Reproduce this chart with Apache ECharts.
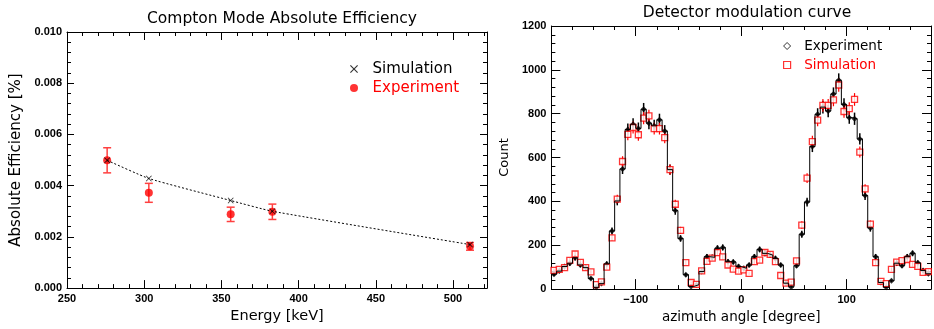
<!DOCTYPE html>
<html>
<head>
<meta charset="utf-8">
<script src="https://cdn.jsdelivr.net/npm/echarts@6/dist/echarts.min.js"></script>
<style>
  html, body { margin: 0; padding: 0; background: #fff; }
  #wrap { position: relative; width: 934px; height: 329px; overflow: hidden; }
  #eff { position: absolute; left: 0; top: 0; width: 490px; height: 329px; }
  #mod { position: absolute; left: 490px; top: 0; width: 444px; height: 329px; }
</style>
</head>
<body>
<div id="wrap"><div id="eff"></div><div id="mod"></div></div>
<script>
// left panel: absolute efficiency vs gamma energy
var energies = [276, 303, 356, 383, 511];
var simEff = [0.00499, 0.00428, 0.00342, 0.00300, 0.00170];
var expEff = [0.00499, 0.00372, 0.00288, 0.00298, 0.00163];
var expEffErr = [0.00049, 0.00037, 0.00028, 0.00030, 0.00015];

// right panel: modulation curve, 5 degree bins starting at -180
var binStart = -180;
var binWidth = 5;
var expCounts = [68, 82, 103, 118, 143, 110, 98, 48, 8, 25, 115, 265,
  402, 548, 728, 752, 733, 820, 757, 745, 772, 721, 545, 358,
  231, 66, 12, 20, 80, 148, 145, 186, 190, 125, 124, 103,
  95, 110, 148, 181, 163, 155, 140, 110, 27, 10, 107, 250,
  397, 650, 797, 830, 812, 890, 953, 842, 782, 777, 685, 427,
  279, 148, 30, 8, 38, 118, 107, 148, 163, 120, 85, 70];
var expErr = [8, 9, 10, 11, 12, 10, 10, 7, 3, 5, 11, 16,
  20, 23, 27, 27, 27, 29, 28, 27, 28, 27, 23, 19,
  15, 8, 3, 4, 9, 12, 12, 14, 14, 11, 11, 10,
  10, 10, 12, 13, 13, 12, 12, 10, 5, 3, 10, 16,
  20, 25, 28, 29, 28, 30, 31, 29, 28, 28, 26, 21,
  17, 12, 5, 3, 6, 11, 10, 12, 13, 11, 9, 8];
var simCounts = [85, 90, 98, 131, 160, 122, 98, 79, 20, 33, 100, 234,
  410, 582, 706, 737, 704, 780, 790, 732, 732, 691, 545, 387,
  268, 121, 30, 22, 83, 126, 141, 166, 147, 110, 91, 82,
  88, 72, 125, 132, 167, 158, 125, 62, 27, 32, 129, 292,
  506, 673, 771, 838, 838, 863, 931, 810, 823, 865, 625, 457,
  296, 121, 35, 25, 90, 123, 130, 135, 113, 104, 76, 80];
var simErr = [9, 9, 10, 11, 13, 11, 10, 9, 4, 6, 10, 15,
  20, 24, 27, 27, 27, 28, 28, 27, 27, 26, 23, 20,
  16, 11, 5, 5, 9, 11, 12, 13, 12, 10, 10, 9,
  9, 8, 11, 11, 13, 13, 11, 8, 5, 6, 11, 17,
  22, 26, 28, 29, 29, 29, 31, 28, 29, 29, 25, 21,
  17, 11, 6, 5, 9, 11, 11, 12, 11, 10, 9, 9];

var black = '#000';
var red = '#ff0000';
var font = 'DejaVu Sans';
var tickFont = {color: black, fontFamily: 'Liberation Sans', fontWeight: 'bold', fontSize: 11};
var crossIcon = 'path://M0,1L1,0L5,4L9,0L10,1L6,5L10,9L9,10L5,6L1,10L0,9L4,5Z';

// plain axis that only draws ticks (used to fake minor ticks and the mirrored frame)
function tickAxis(pos, min, max, interval, len, withLine) {
  return {
    type: 'value', position: pos, min: min, max: max, interval: interval,
    axisLine: {show: withLine, onZero: false, lineStyle: {color: black, width: 1}},
    axisTick: {show: true, inside: true, length: len, lineStyle: {color: black}},
    axisLabel: {show: false},
    splitLine: {show: false}
  };
}

// vertical error bar, optional caps
function errorBars(capHalf, color, width) {
  return function (params, api) {
    var x = api.value(0);
    var pLo = api.coord([x, api.value(1)]);
    var pHi = api.coord([x, api.value(2)]);
    var style = {stroke: color, lineWidth: width};
    var kids = [{type: 'line', shape: {x1: pLo[0], y1: pLo[1], x2: pHi[0], y2: pHi[1]}, style: style}];
    if (capHalf) {
      kids.push({type: 'line', shape: {x1: pLo[0] - capHalf, y1: pLo[1], x2: pLo[0] + capHalf, y2: pLo[1]}, style: style});
      kids.push({type: 'line', shape: {x1: pHi[0] - capHalf, y1: pHi[1], x2: pHi[0] + capHalf, y2: pHi[1]}, style: style});
    }
    return {type: 'group', children: kids};
  };
}

// ---------- left chart ----------
var effChart = echarts.init(document.getElementById('eff'));

var effX = tickAxis('bottom', 250, 522, 50, 8, true);
effX.axisLabel = Object.assign({show: true, margin: 5, showMaxLabel: false,
  formatter: function (v) { return v % 50 === 0 ? v : ''; }}, tickFont);
effX.name = 'Energy [keV]';
effX.nameLocation = 'middle';
effX.nameGap = 19;
effX.nameTextStyle = {fontFamily: font, fontSize: 14.5, color: black};

var effY = tickAxis('left', 0, 0.010, 0.002, 7, true);
effY.axisLabel = Object.assign({show: true, margin: 5,
  formatter: function (v) { return v.toFixed(3); }}, tickFont);
effY.name = 'Absolute Efficiency [%]';
effY.nameLocation = 'middle';
effY.nameGap = 42;
effY.nameTextStyle = {fontFamily: font, fontSize: 15, color: black};

effChart.setOption({
  animation: false,
  title: {
    text: 'Compton Mode Absolute Efficiency', left: 277, top: 6, textAlign: 'center',
    textStyle: {fontFamily: font, fontSize: 15.5, fontWeight: 'normal', color: black}
  },
  grid: {left: 67, top: 32, width: 420, height: 257},
  legend: {
    orient: 'vertical', left: 350, top: 61, padding: 0, itemWidth: 8, itemHeight: 8, itemGap: 3,
    selectedMode: false,
    textStyle: {fontFamily: font, fontSize: 15, lineHeight: 16},
    formatter: function (n) { return '  ' + n; },
    data: [
      {name: 'Simulation', icon: crossIcon, itemStyle: {color: black}, textStyle: {color: black}},
      {name: 'Experiment', icon: 'circle', itemStyle: {color: red}, textStyle: {color: red}}
    ]
  },
  xAxis: [
    effX,
    tickAxis('bottom', 250, 522, 10, 4, false),
    tickAxis('top', 250, 522, 50, 8, true),
    tickAxis('top', 250, 522, 10, 4, false)
  ],
  yAxis: [
    effY,
    tickAxis('left', 0, 0.010, 0.0004, 4, false),
    tickAxis('right', 0, 0.010, 0.002, 7, true),
    tickAxis('right', 0, 0.010, 0.0004, 4, false)
  ],
  series: [
    {
      name: 'fit', type: 'line', smooth: 0.15, showSymbol: false, silent: true,
      data: energies.map(function (e, i) { return [e, simEff[i]]; }),
      lineStyle: {color: black, width: 1, type: [2, 2]}
    },
    {
      name: 'expErr', type: 'custom', silent: true,
      renderItem: errorBars(4, '#ff4040', 1.5),
      encode: {x: 0, y: [1, 2]},
      data: energies.map(function (e, i) { return [e, expEff[i] - expEffErr[i], expEff[i] + expEffErr[i]]; })
    },
    {
      name: 'Experiment', type: 'scatter', symbol: 'circle', symbolSize: 8,
      itemStyle: {color: red},
      data: energies.map(function (e, i) { return [e, expEff[i]]; })
    },
    {
      name: 'Simulation', type: 'scatter', symbol: crossIcon, symbolSize: 6,
      itemStyle: {color: black},
      data: energies.map(function (e, i) { return [e, simEff[i]]; })
    }
  ]
});

// ---------- right chart ----------
var modChart = echarts.init(document.getElementById('mod'));

var centers = expCounts.map(function (v, i) { return binStart + binWidth * (i + 0.5); });
var stepData = [];
expCounts.forEach(function (v, i) {
  stepData.push([binStart + binWidth * i, v]);
  stepData.push([binStart + binWidth * (i + 1), v]);
});

var modX = tickAxis('bottom', -180, 180, 20, 4, true);
modX.axisLabel = Object.assign({show: true, margin: 5, interval: 0,
  formatter: function (v) {
    if (v % 100 !== 0) return '';
    return v < 0 ? '\u2212' + (-v) : String(v);
  }}, tickFont);
modX.name = 'azimuth angle [degree]';
modX.nameLocation = 'middle';
modX.nameGap = 18;
modX.nameTextStyle = {fontFamily: font, fontSize: 13.5, color: black};

function majorX(pos) {
  var a = tickAxis(pos, -180, 180, 20, 10, false);
  a.axisTick.customValues = [-100, 0, 100];
  return a;
}

var modY = tickAxis('left', 0, 1200, 200, 9, true);
modY.axisLabel = Object.assign({show: true, margin: 5,
  formatter: function (v) { return String(v); }}, tickFont);
modY.name = 'Count';
modY.nameLocation = 'middle';
modY.nameGap = 30;
modY.nameTextStyle = {fontFamily: font, fontSize: 13, color: black};

modChart.setOption({
  animation: false,
  title: {
    text: 'Detector modulation curve', left: 252, top: 0, textAlign: 'center',
    textStyle: {fontFamily: font, fontSize: 15.5, fontWeight: 'normal', color: black}
  },
  grid: {left: 54, top: 26, width: 397, height: 265},
  legend: {
    orient: 'vertical', left: 293, top: 38, padding: 0, itemWidth: 7, itemHeight: 7, itemGap: 3,
    selectedMode: false,
    textStyle: {fontFamily: font, fontSize: 13.5, lineHeight: 16},
    formatter: function (n) { return '  ' + n; },
    data: [
      {name: 'Experiment', icon: 'diamond', itemStyle: {color: '#fff', borderColor: black, borderWidth: 1}, textStyle: {color: black}},
      {name: 'Simulation', icon: 'rect', itemStyle: {color: '#fff', borderColor: red, borderWidth: 1.2}, textStyle: {color: red}}
    ]
  },
  xAxis: [
    modX,
    majorX('bottom'),
    tickAxis('top', -180, 180, 20, 4, true),
    majorX('top')
  ],
  yAxis: [
    modY,
    tickAxis('left', 0, 1200, 40, 4, false),
    tickAxis('right', 0, 1200, 200, 9, true),
    tickAxis('right', 0, 1200, 40, 4, false)
  ],
  series: [
    {
      name: 'hist', type: 'line', showSymbol: false, silent: true, data: stepData,
      lineStyle: {color: black, width: 1}
    },
    {
      name: 'expErr', type: 'custom', silent: true, clip: true,
      renderItem: errorBars(0, black, 1.5),
      encode: {x: 0, y: [1, 2]},
      data: centers.map(function (c, i) { return [c, expCounts[i] - expErr[i], expCounts[i] + expErr[i]]; })
    },
    {
      name: 'Experiment', type: 'scatter', symbol: 'diamond', symbolSize: 6,
      itemStyle: {color: black},
      data: centers.map(function (c, i) { return [c, expCounts[i]]; })
    },
    {
      name: 'simErr', type: 'custom', silent: true, clip: true,
      renderItem: errorBars(0, red, 1.2),
      encode: {x: 0, y: [1, 2]},
      data: centers.map(function (c, i) { return [c, simCounts[i] - simErr[i], simCounts[i] + simErr[i]]; })
    },
    {
      name: 'Simulation', type: 'scatter', symbol: 'rect', symbolSize: 6,
      itemStyle: {color: '#fff', borderColor: red, borderWidth: 1.3},
      data: centers.map(function (c, i) { return [c, simCounts[i]]; })
    }
  ]
});
</script>
</body>
</html>
